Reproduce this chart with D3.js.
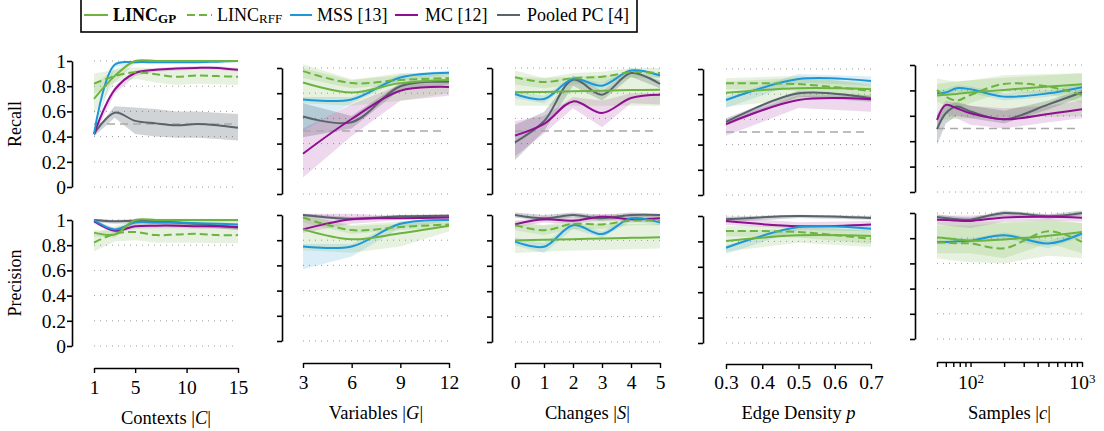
<!DOCTYPE html>
<html>
<head>
<meta charset="utf-8">
<script src="https://cdn.jsdelivr.net/npm/d3@7"></script>
<style>
  body { margin: 0; background: #fff; }
  svg { font-family: "Liberation Serif", "Times New Roman", serif; }
</style>
</head>
<body>
<div class="chart"></div>
<script>
// ---- data ----
const contextsX = [1, 3, 5, 7, 9, 11, 13, 15];
const variablesX = [3, 6, 9, 12];
const changesX = [0, 1, 2, 3, 4, 5];
const densityX = [0.3, 0.5, 0.7];
const samplesX = [50, 60, 75, 100, 200, 500, 1000];

const contextsRecall = {
  gp:  { m: [0.70, 0.88, 1.0, 1.0, 1.0, 1.0, 1.0, 1.0], lo: [0.58, 0.83, 0.98, 0.99, 0.99, 0.99, 0.99, 0.99], hi: [0.82, 0.93, 1.01, 1.01, 1.01, 1.01, 1.01, 1.01] },
  rff: { m: [0.82, 0.88, 0.91, 0.895, 0.875, 0.885, 0.88, 0.875], lo: [0.74, 0.83, 0.86, 0.83, 0.81, 0.82, 0.815, 0.81], hi: [0.90, 0.93, 0.95, 0.94, 0.93, 0.93, 0.93, 0.93] },
  mss: { m: [0.42, 0.97, 0.99, 0.99, 0.99, 0.99, 0.995, 1.0], lo: [0.40, 0.95, 0.98, 0.98, 0.98, 0.98, 0.985, 0.99], hi: [0.44, 0.99, 1.0, 1.0, 1.0, 1.0, 1.0, 1.0] },
  mc:  { m: [0.42, 0.77, 0.905, 0.93, 0.94, 0.945, 0.945, 0.93], lo: [0.40, 0.74, 0.88, 0.915, 0.925, 0.93, 0.93, 0.915], hi: [0.44, 0.80, 0.925, 0.945, 0.955, 0.96, 0.96, 0.945] },
  pc:  { m: [0.42, 0.59, 0.525, 0.505, 0.49, 0.50, 0.49, 0.47], lo: [0.40, 0.55, 0.42, 0.40, 0.39, 0.39, 0.38, 0.37], hi: [0.44, 0.64, 0.63, 0.62, 0.60, 0.60, 0.59, 0.58] }
};
const contextsPrecision = {
  gp:  { m: [0.90, 0.885, 1.0, 1.0, 1.0, 1.0, 1.0, 1.0], lo: [0.87, 0.86, 0.98, 0.985, 0.985, 0.985, 0.985, 0.985], hi: [0.92, 0.91, 1.01, 1.01, 1.01, 1.01, 1.01, 1.01] },
  rff: { m: [0.82, 0.89, 0.905, 0.88, 0.885, 0.89, 0.88, 0.88], lo: [0.75, 0.83, 0.84, 0.82, 0.82, 0.82, 0.815, 0.815], hi: [0.89, 0.95, 1.0, 1.0, 1.0, 1.0, 1.0, 1.0] },
  mss: { m: [1.0, 0.925, 0.98, 0.98, 0.98, 0.975, 0.97, 0.965], lo: [0.99, 0.91, 0.965, 0.965, 0.965, 0.96, 0.955, 0.95], hi: [1.0, 0.935, 0.99, 0.99, 0.99, 0.985, 0.98, 0.975] },
  mc:  { m: [0.99, 0.915, 0.95, 0.955, 0.955, 0.95, 0.95, 0.945], lo: [0.97, 0.895, 0.93, 0.935, 0.935, 0.93, 0.93, 0.925], hi: [1.0, 0.935, 0.97, 0.975, 0.975, 0.97, 0.97, 0.965] },
  pc:  { m: [1.0, 0.99, 0.995, 0.99, 0.98, 0.97, 0.955, 0.94], lo: [0.98, 0.97, 0.975, 0.97, 0.96, 0.95, 0.935, 0.92], hi: [1.01, 1.0, 1.005, 1.0, 0.99, 0.98, 0.965, 0.95] }
};

const variablesRecall = {
  gp:  { m: [0.885, 0.805, 0.88, 0.905], lo: [0.72, 0.70, 0.74, 0.80], hi: [1.0, 0.90, 0.96, 0.965] },
  rff: { m: [0.975, 0.88, 0.905, 0.92], lo: [0.92, 0.84, 0.87, 0.89], hi: [1.03, 0.91, 0.94, 0.95] },
  mss: { m: [0.75, 0.75, 0.925, 0.963], lo: [0.50, 0.72, 0.90, 0.945], hi: [0.77, 0.77, 0.95, 0.98] },
  mc:  { m: [0.32, 0.595, 0.82, 0.85], lo: [0.13, 0.46, 0.74, 0.78], hi: [0.52, 0.71, 0.87, 0.88] },
  pc:  { m: [0.615, 0.57, 0.855, 0.89], lo: [0.45, 0.52, 0.83, 0.87], hi: [0.72, 0.62, 0.88, 0.91] }
};
const variablesPrecision = {
  gp:  { m: [0.886, 0.807, 0.855, 0.915], lo: [0.72, 0.70, 0.75, 0.87], hi: [1.0, 0.92, 0.95, 0.96] },
  rff: { m: [0.98, 0.88, 0.905, 0.925], lo: [0.94, 0.85, 0.88, 0.90], hi: [1.01, 0.91, 0.93, 0.95] },
  mss: { m: [0.75, 0.75, 0.93, 0.96], lo: [0.57, 0.67, 0.90, 0.95], hi: [0.77, 0.77, 0.95, 0.975] },
  mc:  { m: [0.886, 0.966, 0.974, 0.98], lo: [0.86, 0.93, 0.96, 0.97], hi: [1.01, 1.01, 0.99, 0.99] },
  pc:  { m: [1.0, 0.97, 0.99, 0.995], lo: [0.99, 0.955, 0.98, 0.985], hi: [1.01, 0.985, 1.0, 1.005] }
};

const changesRecall = {
  gp:  { m: [0.807, 0.81, 0.815, 0.82, 0.825, 0.828], lo: [0.70, 0.70, 0.70, 0.70, 0.70, 0.70], hi: [0.93, 0.92, 0.93, 0.94, 0.95, 0.96] },
  rff: { m: [0.926, 0.889, 0.92, 0.93, 0.966, 0.96], lo: [0.87, 0.84, 0.87, 0.88, 0.92, 0.92], hi: [0.98, 0.92, 0.96, 0.97, 1.0, 1.0] },
  mss: { m: [0.794, 0.754, 0.913, 0.86, 0.98, 0.94], lo: [0.76, 0.72, 0.89, 0.83, 0.96, 0.92], hi: [0.82, 0.78, 0.93, 0.88, 1.0, 0.96] },
  mc:  { m: [0.463, 0.556, 0.735, 0.643, 0.762, 0.788], lo: [0.30, 0.48, 0.68, 0.53, 0.72, 0.71], hi: [0.58, 0.62, 0.77, 0.74, 0.80, 0.80] },
  pc:  { m: [0.41, 0.577, 0.907, 0.788, 0.96, 0.873], lo: [0.27, 0.50, 0.86, 0.74, 0.93, 0.84], hi: [0.55, 0.65, 0.94, 0.82, 0.98, 0.90] }
};
const changesPrecision = {
  gp:  { m: [0.80, 0.805, 0.81, 0.815, 0.82, 0.824], lo: [0.70, 0.71, 0.72, 0.725, 0.73, 0.737], hi: [0.92, 0.92, 0.93, 0.93, 0.93, 0.93] },
  rff: { m: [0.92, 0.88, 0.93, 0.926, 0.955, 0.955], lo: [0.88, 0.84, 0.89, 0.89, 0.92, 0.92], hi: [0.96, 0.92, 0.97, 0.96, 0.99, 0.99] },
  mss: { m: [0.79, 0.75, 0.92, 0.85, 0.974, 0.94], lo: [0.76, 0.70, 0.89, 0.82, 0.95, 0.92], hi: [0.82, 0.78, 0.94, 0.87, 0.99, 0.96] },
  mc:  { m: [0.926, 0.966, 0.955, 0.987, 0.966, 0.974], lo: [0.90, 0.94, 0.93, 0.96, 0.94, 0.95], hi: [0.95, 0.99, 0.98, 1.01, 0.99, 0.995] },
  pc:  { m: [1.0, 0.974, 1.0, 0.974, 1.0, 1.0], lo: [0.98, 0.95, 0.98, 0.95, 0.98, 0.98], hi: [1.02, 1.0, 1.02, 1.0, 1.02, 1.01] }
};

const densityRecall = {
  gp:  { m: [0.812, 0.847, 0.84], lo: [0.70, 0.76, 0.77], hi: [0.90, 0.93, 0.89] },
  rff: { m: [0.886, 0.88, 0.825], lo: [0.84, 0.83, 0.78], hi: [0.926, 0.947, 0.873] },
  mss: { m: [0.754, 0.92, 0.905], lo: [0.69, 0.89, 0.87], hi: [0.78, 0.96, 0.94] },
  mc:  { m: [0.563, 0.754, 0.76], lo: [0.47, 0.69, 0.66], hi: [0.60, 0.79, 0.79] },
  pc:  { m: [0.58, 0.807, 0.767], lo: [0.55, 0.78, 0.74], hi: [0.61, 0.83, 0.79] }
};
const densityPrecision = {
  gp:  { m: [0.803, 0.848, 0.843], lo: [0.72, 0.79, 0.756], hi: [0.88, 0.90, 0.90] },
  rff: { m: [0.882, 0.874, 0.82], lo: [0.84, 0.83, 0.78], hi: [0.92, 0.93, 0.88] },
  mss: { m: [0.75, 0.913, 0.90], lo: [0.70, 0.89, 0.88], hi: [0.77, 0.93, 0.92] },
  mc:  { m: [0.96, 0.92, 0.934], lo: [0.93, 0.90, 0.91], hi: [0.99, 0.95, 0.96] },
  pc:  { m: [0.974, 1.0, 0.984], lo: [0.95, 0.985, 0.97], hi: [0.995, 1.01, 1.0] }
};

const samplesRecall = {
  gp:  { m: [0.76, 0.765, 0.772, 0.783, 0.804, 0.83, 0.848], lo: [0.56, 0.57, 0.575, 0.58, 0.59, 0.59, 0.60], hi: [0.85, 0.86, 0.87, 0.88, 0.90, 0.92, 0.935] },
  rff: { m: [0.804, 0.751, 0.72, 0.764, 0.851, 0.83, 0.764], lo: [0.71, 0.68, 0.66, 0.70, 0.79, 0.77, 0.70], hi: [0.895, 0.88, 0.87, 0.88, 0.92, 0.93, 0.935] },
  mss: { m: [0.777, 0.783, 0.817, 0.809, 0.751, 0.777, 0.825], lo: [0.75, 0.76, 0.79, 0.78, 0.72, 0.75, 0.80], hi: [0.80, 0.81, 0.84, 0.83, 0.78, 0.80, 0.85] },
  mc:  { m: [0.568, 0.686, 0.66, 0.62, 0.573, 0.615, 0.652], lo: [0.52, 0.62, 0.58, 0.53, 0.50, 0.55, 0.58], hi: [0.62, 0.72, 0.70, 0.68, 0.66, 0.68, 0.72] },
  pc:  { m: [0.495, 0.62, 0.673, 0.634, 0.573, 0.69, 0.785], lo: [0.37, 0.54, 0.60, 0.58, 0.54, 0.65, 0.75], hi: [0.60, 0.68, 0.71, 0.68, 0.64, 0.72, 0.81] }
};
const samplesPrecision = {
  gp:  { m: [0.805, 0.80, 0.79, 0.78, 0.79, 0.82, 0.85], lo: [0.64, 0.63, 0.62, 0.61, 0.60, 0.66, 0.64], hi: [0.90, 0.90, 0.90, 0.90, 0.92, 0.94, 0.92] },
  rff: { m: [0.765, 0.765, 0.76, 0.758, 0.72, 0.855, 0.77], lo: [0.68, 0.68, 0.68, 0.68, 0.64, 0.76, 0.68], hi: [0.93, 0.93, 0.93, 0.93, 0.93, 0.95, 0.92] },
  mss: { m: [0.77, 0.77, 0.775, 0.78, 0.824, 0.758, 0.837], lo: [0.75, 0.75, 0.755, 0.76, 0.80, 0.72, 0.81], hi: [0.79, 0.79, 0.795, 0.80, 0.845, 0.78, 0.86] },
  mc:  { m: [0.947, 0.945, 0.94, 0.937, 0.965, 0.97, 0.963], lo: [0.91, 0.90, 0.89, 0.88, 0.93, 0.94, 0.93], hi: [0.98, 0.98, 0.98, 0.98, 0.99, 0.99, 0.99] },
  pc:  { m: [0.968, 0.96, 0.95, 0.947, 1.0, 0.974, 1.0], lo: [0.95, 0.94, 0.93, 0.93, 0.98, 0.955, 0.98], hi: [0.99, 0.98, 0.97, 0.965, 1.02, 0.99, 1.02] }
};

const yTicks = [0, 0.2, 0.4, 0.6, 0.8, 1];
const chanceLevel = 0.5;

// methods, in drawing order (last on top)
const methods = [
  { key: "pc",  color: "#59636b", dash: null,  band: 0.28 },
  { key: "mc",  color: "#8e0f8f", dash: null,  band: 0.16 },
  { key: "mss", color: "#1d97d5", dash: null,  band: 0.16 },
  { key: "rff", color: "#6cb33f", dash: "8,4", band: 0.17 },
  { key: "gp",  color: "#6cb33f", dash: null,  band: 0.17 }
];
const colorOf = k => methods.find(m => m.key === k).color;

// panel layout (pixel positions measured on the figure)
const panels = [
  { x: contextsX, rec: contextsRecall, prec: contextsPrecision, domain: [1, 15], ticks: [1, 5, 10, 15],
    xr: [94, 238], ax: 72, recY: [61, 187], precY: [220, 346], axisY: 368, labY: 387, titleY: 418,
    title: ["Contexts |", "C", "|"] },
  { x: variablesX, rec: variablesRecall, prec: variablesPrecision, domain: [3, 12], ticks: [3, 6, 9, 12],
    xr: [303, 449], ax: 282, recY: [68, 194], precY: [215, 341], axisY: 363, labY: 382, titleY: 413,
    title: ["Variables |", "G", "|"] },
  { x: changesX, rec: changesRecall, prec: changesPrecision, domain: [0, 5], ticks: [0, 1, 2, 3, 4, 5],
    xr: [515, 660], ax: 492, recY: [68, 194], precY: [215, 342], axisY: 363, labY: 382, titleY: 413,
    title: ["Changes |", "S", "|"] },
  { x: densityX, rec: densityRecall, prec: densityPrecision, domain: [0.3, 0.7], ticks: [0.3, 0.4, 0.5, 0.6, 0.7],
    xr: [726, 871], ax: 703, recY: [69, 195], precY: [216, 343], axisY: 364, labY: 382, titleY: 413,
    title: ["Edge Density ", "p", ""] },
  { x: samplesX, rec: samplesRecall, prec: samplesPrecision, domain: [50, 1000], log: true,
    ticks: [50, 60, 70, 80, 90, 100, 200, 300, 400, 500, 600, 700, 800, 900, 1000],
    xr: [937, 1082], ax: 915, recY: [65, 192], precY: [213, 339], axisY: 362, labY: 382, titleY: 413,
    title: ["Samples |", "c", "|"] }
];

const svg = d3.select(".chart").append("svg")
  .attr("width", 1104)
  .attr("height", 431);

const FONT = '"Liberation Serif", "Times New Roman", serif';
const TICK_FS = 19.5;
const TITLE_FS = 18.5;

panels.forEach((p, i) => {
  const x = (p.log ? d3.scaleLog() : d3.scaleLinear()).domain(p.domain).range(p.xr);

  [["rec", p.recY], ["prec", p.precY]].forEach(([row, yr]) => {
    const y = d3.scaleLinear().domain([0, 1]).range([yr[1], yr[0]]);
    const g = svg.append("g");

    // dotted grid
    g.selectAll(".grid").data(yTicks).enter().append("line")
      .attr("x1", p.xr[0]).attr("x2", p.xr[1])
      .attr("y1", d => y(d)).attr("y2", d => y(d))
      .attr("stroke", "#9a9a9a").attr("stroke-width", 1)
      .attr("stroke-dasharray", "1,5");

    // y axis
    const yAxis = d3.axisLeft(y).tickValues(yTicks).tickSize(5).tickSizeOuter(0).tickPadding(1)
      .tickFormat(i === 0 ? (d => (d === 0 || d === 1) ? String(d) : d.toFixed(1)) : (() => ""));
    const ga = g.append("g").attr("transform", `translate(${p.ax},0)`).call(yAxis)
      .attr("font-family", FONT).attr("font-size", TICK_FS);
    ga.select(".domain").attr("stroke", "#000").attr("stroke-width", 1.6);
    ga.selectAll(".tick line").attr("stroke", "#000").attr("stroke-width", 1.6);
    ga.selectAll(".tick text").attr("fill", "#000");

    const data = p[row];

    // bands
    methods.forEach(m => {
      const s = data[m.key];
      const pts = p.x.map((xv, j) => ({ x: xv, lo: s.lo[j], hi: s.hi[j] }));
      g.append("path").datum(pts)
        .attr("d", d3.area().x(d => x(d.x)).y0(d => y(d.lo)).y1(d => y(d.hi)))
        .attr("fill", m.color).attr("fill-opacity", m.band).attr("stroke", "none");
    });

    // chance level in the recall row
    if (row === "rec") {
      g.append("line")
        .attr("x1", p.xr[0]).attr("x2", p.xr[1] - 3)
        .attr("y1", y(chanceLevel)).attr("y2", y(chanceLevel))
        .attr("stroke", "#a9a9a9").attr("stroke-width", 1.3)
        .attr("stroke-dasharray", "8,5");
    }

    // mean lines
    methods.forEach(m => {
      const s = data[m.key];
      const pts = p.x.map((xv, j) => ({ x: xv, v: s.m[j] }));
      g.append("path").datum(pts)
        .attr("d", d3.line().curve(d3.curveCatmullRom.alpha(0.5)).x(d => x(d.x)).y(d => y(d.v)))
        .attr("fill", "none").attr("stroke", m.color).attr("stroke-width", 2)
        .attr("stroke-dasharray", m.dash);
    });
  });

  // x axis below the precision row
  const xAxis = d3.axisBottom(x).tickValues(p.ticks).tickSize(5).tickSizeOuter(0)
    .tickFormat(d => p.log ? "" : String(d));
  const gx = svg.append("g").attr("transform", `translate(0,${p.axisY})`).call(xAxis)
    .attr("font-family", FONT).attr("font-size", TICK_FS);
  gx.select(".domain").attr("stroke", "#000").attr("stroke-width", 1.6);
  gx.selectAll(".tick line").attr("stroke", "#000").attr("stroke-width", 1.4);
  gx.selectAll(".tick text").attr("fill", "#000").attr("y", p.labY - p.axisY).attr("dy", "0.35em");
  if (p.log) {
    gx.selectAll(".tick text").each(function (d) {
      if (d === 100 || d === 1000) {
        const t = d3.select(this).text("10");
        t.append("tspan").attr("dy", "-0.45em").attr("font-size", 13).text(d === 100 ? "2" : "3");
      }
    });
  }

  // x title
  const tt = svg.append("text")
    .attr("x", (p.xr[0] + p.xr[1]) / 2).attr("y", p.titleY).attr("dy", "0.35em")
    .attr("text-anchor", "middle").attr("font-family", FONT).attr("font-size", TITLE_FS);
  tt.append("tspan").text(p.title[0]);
  tt.append("tspan").attr("font-style", "italic").text(p.title[1]);
  if (p.title[2]) tt.append("tspan").text(p.title[2]);
});

// y titles
[["Recall", 124], ["Precision", 283]].forEach(([t, cy]) => {
  svg.append("text")
    .attr("transform", `translate(15,${cy}) rotate(-90)`)
    .attr("dy", "0.35em").attr("text-anchor", "middle")
    .attr("font-family", FONT).attr("font-size", 18).text(t);
});

// legend
const lg = svg.append("g");
lg.append("rect").attr("x", 81).attr("y", -1).attr("width", 556).attr("height", 33)
  .attr("fill", "#fff").attr("stroke", "#000").attr("stroke-width", 1.6);

const legendItems = [
  { key: "gp",  x0: 84,  x1: 108, tx: 113, main: "LINC", sub: "GP", bold: true },
  { key: "rff", x0: 187, x1: 212, tx: 217, main: "LINC", sub: "RFF", dash: "8,4" },
  { key: "mss", x0: 290, x1: 312, tx: 317, main: "MSS [13]" },
  { key: "mc",  x0: 395, x1: 418, tx: 425, main: "MC [12]" },
  { key: "pc",  x0: 497, x1: 520, tx: 527, main: "Pooled PC [4]" }
];
legendItems.forEach(it => {
  lg.append("line").attr("x1", it.x0).attr("x2", it.x1).attr("y1", 15).attr("y2", 15)
    .attr("stroke", colorOf(it.key)).attr("stroke-width", 2)
    .attr("stroke-dasharray", it.dash || null);
  const t = lg.append("text").attr("x", it.tx).attr("y", 21)
    .attr("font-family", FONT).attr("font-size", 18)
    .attr("font-weight", it.bold ? "bold" : "normal");
  t.append("tspan").text(it.main);
  if (it.sub) t.append("tspan").attr("dy", 2).attr("font-size", 13).text(it.sub);
});
</script>
</body>
</html>
